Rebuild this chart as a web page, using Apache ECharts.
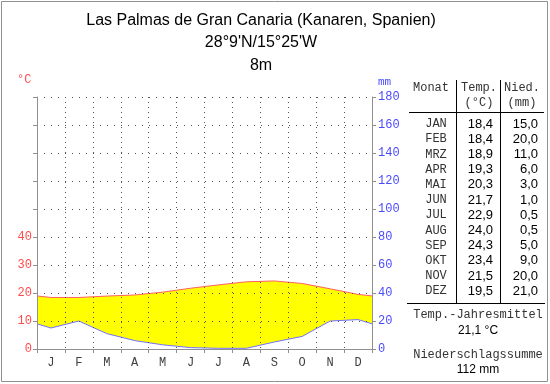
<!DOCTYPE html>
<html><head><meta charset="utf-8">
<script src="https://cdn.jsdelivr.net/npm/echarts@6/dist/echarts.min.js"></script>
<style>html,body{margin:0;padding:0;background:#fff}#c{width:550px;height:384px}</style>
</head><body><div id="c"></div>
<script>
var monthLetters = ['J','F','M','A','M','J','J','A','S','O','N','D'];
var monthNames = ['JAN','FEB','MRZ','APR','MAI','JUN','JUL','AUG','SEP','OKT','NOV','DEZ'];
var temp = [18.4,18.4,18.9,19.3,20.3,21.7,22.9,24.0,24.3,23.4,21.5,19.5];
var precip = [15.0,20.0,11.0,6.0,3.0,1.0,0.5,0.5,5.0,9.0,20.0,21.0];
var tempTicks = [0,10,20,30,40];
var precipTicks = [0,20,40,60,80,100,120,140,160,180];

function fmt(v){ return v.toFixed(1).replace('.', ','); }
function pts(arr){
  var edge = (arr[0] + arr[arr.length-1]) / 2;
  var out = [[0, edge]];
  arr.forEach(function(v,i){ out.push([i+0.5, v]); });
  out.push([arr.length, edge]);
  return out;
}
var meanT = temp.reduce(function(a,b){return a+b;},0)/temp.length;
var sumP = precip.reduce(function(a,b){return a+b;},0);
var MONO = '"Liberation Mono", "Courier New", monospace';

var chart = echarts.init(document.getElementById('c'));
var graphic = [];
graphic.push({type:'rect', shape:{x:1.5,y:1.5,width:546,height:380}, style:{fill:null, stroke:'#909090', lineWidth:1}, z:0});
graphic.push({type:'text', x:17, y:80, style:{text:'°C', fill:'#ff5050', font:'12px "Liberation Mono"', textVerticalAlign:'middle'}});
graphic.push({type:'text', x:378, y:82, style:{text:'mm', fill:'#4a4aff', font:'11px "Liberation Mono"', textVerticalAlign:'middle'}});
var mono = '12px "Liberation Mono"';
var sans = '13px "Liberation Sans"';
function txt(x,y,t,font,align,color){
  graphic.push({type:'text', x:x, y:y, style:{text:t, font:font, fill:color||'#333', textAlign:align, textVerticalAlign:'middle'}});
}
function line(x1,y1,x2,y2){
  graphic.push({type:'line', shape:{x1:x1,y1:y1,x2:x2,y2:y2}, style:{stroke:'#000', lineWidth:1}});
}
txt(413,88,'Monat',mono,'left');
txt(479,88,'Temp.',mono,'center');
txt(479,103,'(°C)',mono,'center');
txt(522,88,'Nied.',mono,'center');
txt(522,103,'(mm)',mono,'center');
line(409,112.5,544,112.5);
line(456.5,80,456.5,303);
line(500.5,80,500.5,303);
line(407,303.5,545,303.5);
monthNames.forEach(function(m,i){
  var y = 124 + i*15.2;
  txt(436,y,m,mono,'center');
  txt(493,y,fmt(temp[i]),sans,'right','#000');
  txt(538,y,fmt(precip[i]),sans,'right','#000');
});
txt(478,315,'Temp.-Jahresmittel',mono,'center');
txt(478,331,fmt(meanT)+' °C','12px "Liberation Sans"','center','#000');
txt(478,355,'Niederschlagssumme',mono,'center');
txt(478,370,Math.round(sumP)+' mm','12px "Liberation Sans"','center','#000');

var option = {
  animation:false,
  backgroundColor:'#fff',
  title:{text:'Las Palmas de Gran Canaria (Kanaren, Spanien)\n28°9\'N/15°25\'W\n8m', left:256, top:4, textAlign:'center',
    textStyle:{fontFamily:'Liberation Sans', fontSize:16, fontWeight:'normal', color:'#000', lineHeight:22.5}},
  grid:{left:37, right:178, top:97, bottom:35, containLabel:false},
  xAxis:[
    {type:'category', data:monthLetters, boundaryGap:true, z:5,
     axisLine:{lineStyle:{color:'#909090'}}, axisTick:{show:true, length:4, lineStyle:{color:'#909090'}},
     axisLabel:{color:'#404040', fontFamily:MONO, fontSize:12, margin:8},
     splitLine:{show:true, lineStyle:{color:'#555', type:[1,4], width:1}}},
    {type:'value', min:0, max:12, show:false}
  ],
  yAxis:[
    {type:'value', min:0, max:90, interval:10, position:'left', z:5,
     axisLine:{show:true, lineStyle:{color:'#909090'}}, axisTick:{show:true, length:4, lineStyle:{color:'#909090'}},
     axisLabel:{color:'#ff4a4a', fontFamily:MONO, fontSize:12, margin:5,
       formatter:function(v){ return tempTicks.indexOf(v) >= 0 ? String(v) : ''; }},
     splitLine:{show:false}},
    {type:'value', min:0, max:180, interval:20, position:'right', z:5,
     axisLine:{show:true, lineStyle:{color:'#909090'}}, axisTick:{show:true, length:4, lineStyle:{color:'#909090'}},
     axisLabel:{color:'#4a4aff', fontFamily:MONO, fontSize:12, margin:6,
       formatter:function(v){ return precipTicks.indexOf(v) >= 0 ? String(v) : ''; }},
     splitLine:{show:true, lineStyle:{color:'#555', type:[1,6], width:1}}}
  ],
  series:[
    {type:'line', xAxisIndex:1, yAxisIndex:0, data:pts(temp), symbol:'none', z:1,
     lineStyle:{width:0}, areaStyle:{color:'#ffff00', opacity:1}},
    {type:'line', xAxisIndex:1, yAxisIndex:1, data:pts(precip), symbol:'none', z:2,
     lineStyle:{width:0}, areaStyle:{color:'#ffffff', opacity:1}},
    {type:'line', xAxisIndex:1, yAxisIndex:0, data:pts(temp), symbol:'none', z:3,
     lineStyle:{width:1, color:'#ff6060'}},
    {type:'line', xAxisIndex:1, yAxisIndex:1, data:pts(precip), symbol:'none', z:3,
     lineStyle:{width:1, color:'#7070ff'}}
  ],
  graphic:graphic
};
chart.setOption(option);
</script></body></html>
